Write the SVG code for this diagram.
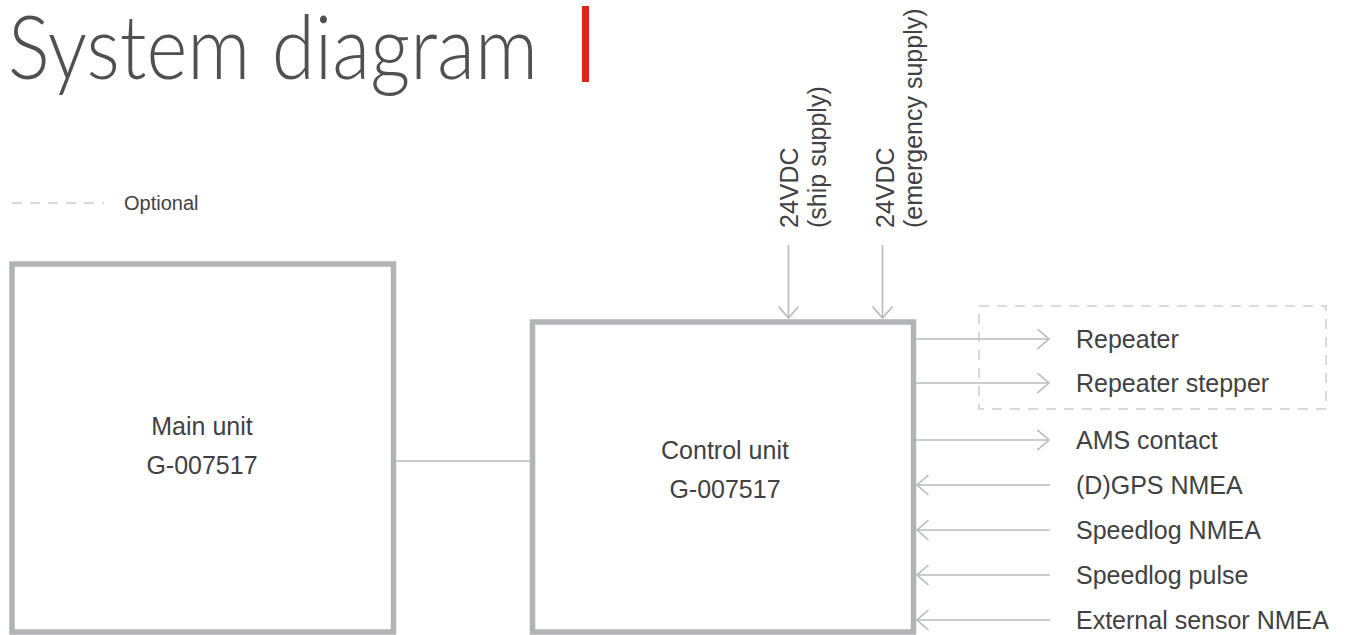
<svg xmlns="http://www.w3.org/2000/svg" width="1348" height="635" viewBox="0 0 1348 635">
<style>
.box{fill:#fff;stroke:#b2b3b6;stroke-width:5.5}
.lbl{font-family:"Liberation Sans",Arial,sans-serif;font-size:25px;fill:#414143}
.ctr{text-anchor:middle}
.wire{stroke:#b9babc;stroke-width:1.6;fill:none}
.dash{stroke:#d9d9d9;stroke-width:2;fill:none;stroke-dasharray:10 8}
</style>
<defs>
<marker id="arr" viewBox="0 0 14 22" refX="12.5" refY="11" markerWidth="14" markerHeight="22" markerUnits="userSpaceOnUse" orient="auto">
<path d="M1,1 L12.5,11 L1,21" fill="none" stroke="#b9babc" stroke-width="1.6"/>
</marker>
</defs>
<rect width="1348" height="635" fill="#fff"/>
<g id="title">
<text x="8" y="79" font-family="Lato,'Open Sans','Liberation Sans',sans-serif" font-weight="300" font-size="88" fill="#505052" textLength="530" lengthAdjust="spacingAndGlyphs">System diagram</text>
<rect x="582" y="6" width="7" height="76" fill="#e5231b"/>
</g>
<g id="legend">
<line x1="12" y1="203" x2="104" y2="203" class="dash"/>
<text x="124" y="210" class="lbl" style="font-size:20px">Optional</text>
</g>
<g id="main-unit">
<rect x="12" y="264" width="381.5" height="368" class="box"/>
<text x="202" y="435" class="lbl ctr">Main unit</text>
<text x="202" y="474" class="lbl ctr">G-007517</text>
</g>
<g id="control-unit">
<rect x="532.5" y="322" width="381" height="310" class="box"/>
<text x="725" y="459" class="lbl ctr">Control unit</text>
<text x="725" y="498" class="lbl ctr">G-007517</text>
</g>
<g id="supply-labels">
<text class="lbl" transform="translate(798,228) rotate(-90)">24VDC</text>
<text class="lbl" transform="translate(826,228) rotate(-90)">(ship supply)</text>
<text class="lbl" transform="translate(894,228) rotate(-90)">24VDC</text>
<text class="lbl" transform="translate(922,228) rotate(-90)">(emergency supply)</text>
</g>
<g id="optional-group">
<rect x="979" y="306" width="347" height="103" class="dash"/>
</g>
<g id="io-labels">
<text x="1076" y="348" class="lbl">Repeater</text>
<text x="1076" y="392" class="lbl">Repeater stepper</text>
<text x="1076" y="449" class="lbl">AMS contact</text>
<text x="1076" y="494" class="lbl">(D)GPS NMEA</text>
<text x="1076" y="539" class="lbl">Speedlog NMEA</text>
<text x="1076" y="584" class="lbl">Speedlog pulse</text>
<text x="1076" y="629" class="lbl">External sensor NMEA</text>
</g>
<g id="connectors">
<line x1="396" y1="461" x2="530" y2="461" class="wire"/>
<line x1="788.5" y1="245" x2="788.5" y2="318" class="wire" marker-end="url(#arr)"/>
<line x1="882.5" y1="245" x2="882.5" y2="318" class="wire" marker-end="url(#arr)"/>
<line x1="916" y1="339" x2="1049" y2="339" class="wire" marker-end="url(#arr)"/>
<line x1="916" y1="383" x2="1049" y2="383" class="wire" marker-end="url(#arr)"/>
<line x1="916" y1="440" x2="1049" y2="440" class="wire" marker-end="url(#arr)"/>
<line x1="1050" y1="485" x2="917" y2="485" class="wire" marker-end="url(#arr)"/>
<line x1="1050" y1="530" x2="917" y2="530" class="wire" marker-end="url(#arr)"/>
<line x1="1050" y1="575" x2="917" y2="575" class="wire" marker-end="url(#arr)"/>
<line x1="1050" y1="620" x2="917" y2="620" class="wire" marker-end="url(#arr)"/>
</g>
</svg>
